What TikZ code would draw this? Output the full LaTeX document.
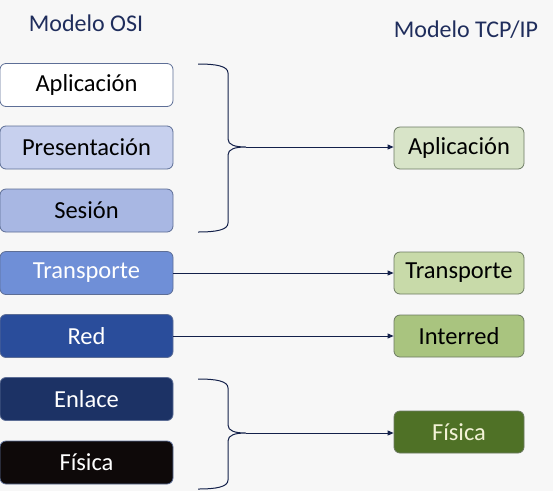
\documentclass[tikz,border=0pt]{standalone}
\usepackage{fontspec}
\setmainfont{Carlito}
\usetikzlibrary{arrows.meta}
\definecolor{bgc}{HTML}{F7F7F7}
\definecolor{titc}{HTML}{1F2D5C}
\definecolor{lnc}{HTML}{13204A}
\definecolor{lA}{HTML}{FFFFFF}
\definecolor{lB}{HTML}{C7D0EE}
\definecolor{lC}{HTML}{A8B7E3}
\definecolor{lD}{HTML}{6F8FD7}
\definecolor{lE}{HTML}{2A4D9B}
\definecolor{lF}{HTML}{1C3265}
\definecolor{lG}{HTML}{0E0909}
\definecolor{rA}{HTML}{D8E4C8}
\definecolor{rB}{HTML}{C8DAA9}
\definecolor{rC}{HTML}{A9C47F}
\definecolor{rD}{HTML}{4F7126}
\definecolor{lbord}{HTML}{5D6E96}
\definecolor{rbord}{HTML}{6C7A62}
\definecolor{paleyel}{HTML}{F2F2D6}
\tikzset{
  osibox/.style={draw=lbord, line width=0.8pt, rounded corners=6pt, minimum width=173pt, minimum height=43pt, inner sep=0pt, font=\fontsize{24.5}{28}\selectfont},
  tcpbox/.style={draw=rbord, line width=0.8pt, rounded corners=6pt, minimum width=130pt, minimum height=42pt, inner sep=0pt, font=\fontsize{24.5}{28}\selectfont},
  title/.style={text=titc, font=\fontsize{24}{28}\selectfont, inner sep=0pt},
  conn/.style={draw=lnc, line width=0.9pt, -{Triangle[length=6pt,width=5pt]}},
  brace/.style={draw=lnc, line width=1pt}
}
\begin{document}
\begin{tikzpicture}[x=1pt,y=-1pt]
\fill[bgc] (0,0) rectangle (553,491);
\useasboundingbox (0,0) rectangle (553,491);
\node[title] (t1) at (86,23) {Modelo OSI};
\node[title] (t2) at (466,30) {Modelo TCP/IP};
% OSI
\node[osibox, fill=lA, text=black] (o1) at (86.5,85) {Aplicación};
\node[osibox, fill=lB, text=black] (o2) at (86.5,147.5) {Presentación};
\node[osibox, fill=lC, text=black] (o3) at (86.5,210.5) {Sesión};
\node[osibox, fill=lD, text=white] (o4) at (86.5,273) {Transporte};
\node[osibox, fill=lE, text=white] (o5) at (86.5,336) {Red};
\node[osibox, fill=lF, text=white] (o6) at (86.5,399) {Enlace};
\node[osibox, fill=lG, text=white] (o7) at (86.5,462.5) {Física};
% TCP/IP
\node[tcpbox, fill=rA, text=black] (p1) at (459,148) {Aplicación};
\node[tcpbox, fill=rB, text=black] (p2) at (459,273) {Transporte};
\node[tcpbox, fill=rC, text=black] (p3) at (459,336) {Interred};
\node[tcpbox, fill=rD, text=paleyel] (p4) at (459,432) {Física};
% braces
\coordinate (b1) at (246,147);
\coordinate (b2) at (246,433);
\draw[brace] (198,64) .. controls (216,64) and (228,66) .. (228,73) -- (228,139)
  .. controls (228,145) and (235,147) .. (b1)
  .. controls (235,147) and (228,149) .. (228,155) -- (228,223)
  .. controls (228,230) and (216,232) .. (198,232);
\draw[brace] (198,379) .. controls (216,379) and (228,381) .. (228,388) -- (228,425)
  .. controls (228,431) and (235,433) .. (b2)
  .. controls (235,433) and (228,435) .. (228,441) -- (228,480)
  .. controls (228,487) and (216,489) .. (198,489);
% connectors
\draw[conn] (b1) -- (b1 -| p1.west);
\draw[conn] (o4.east) -- (p2.west);
\draw[conn] (o5.east) -- (p3.west);
\draw[conn] (b2) -- (b2 -| p4.west);
\end{tikzpicture}
\end{document}
